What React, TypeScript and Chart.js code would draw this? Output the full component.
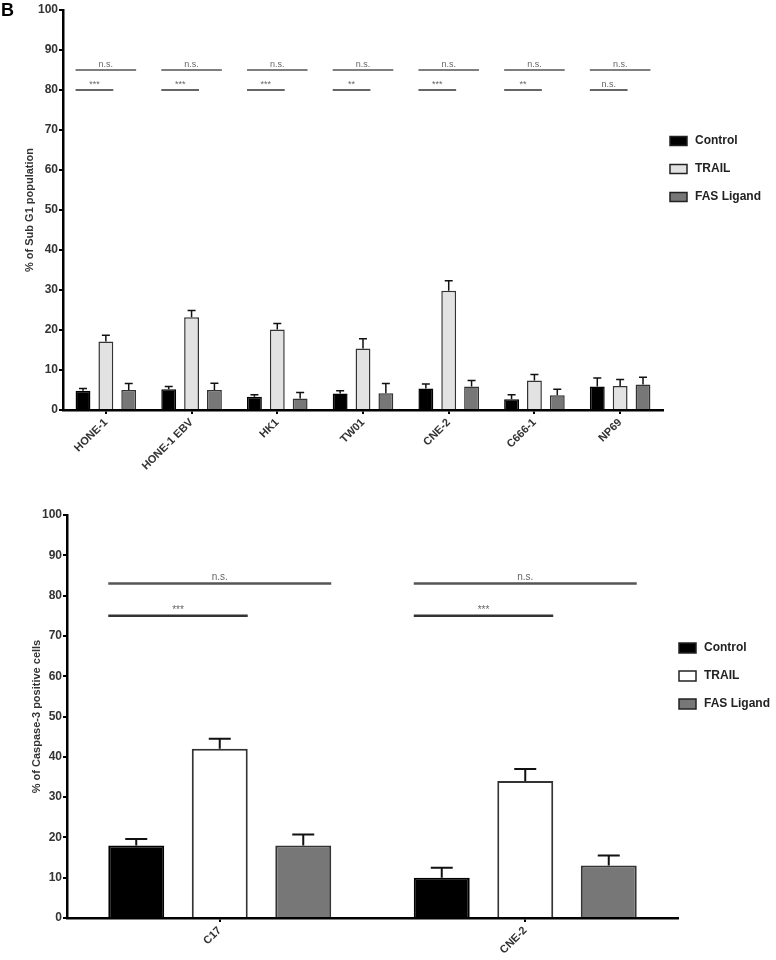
import React, { useEffect, useRef } from 'react';
import { Chart, registerables } from 'chart.js';

Chart.register(...registerables);

const FONT = 'Arial, "Liberation Sans", Helvetica, sans-serif';

// ---------- Top panel data ----------
const topCategories = ['HONE-1', 'HONE-1 EBV', 'HK1', 'TW01', 'CNE-2', 'C666-1', 'NP69'];
const topControl = [4.8, 5.2, 3.3, 4.1, 5.4, 2.7, 5.9];
const topControlSem = [0.6, 0.7, 0.5, 0.7, 1.1, 1.1, 2.1];
const topTrail = [17.1, 23.2, 20.1, 15.4, 29.8, 7.4, 6.0];
const topTrailSem = [1.6, 1.7, 1.5, 2.4, 2.5, 1.5, 1.6];
const topFas = [5.0, 5.0, 2.9, 4.2, 5.9, 3.7, 6.4];
const topFasSem = [1.6, 1.7, 1.5, 2.4, 1.5, 1.5, 1.8];
const topNsLevel = 85;
const topLowLevel = 80;
const topNsLabels = ['n.s.', 'n.s.', 'n.s.', 'n.s.', 'n.s.', 'n.s.', 'n.s.'];
const topLowLabels = ['***', '***', '***', '**', '***', '**', 'n.s.'];

// ---------- Bottom panel data ----------
const botCategories = ['C17', 'CNE-2'];
const botControl = [18, 10];
const botControlSem = [1.6, 2.5];
const botTrail = [42, 34];
const botTrailSem = [2.5, 3.0];
const botFas = [18, 13];
const botFasSem = [2.7, 2.5];
const botNsLevel = 83;
const botLowLevel = 75;
const botNsLabels = ['n.s.', 'n.s.'];
const botLowLabels = ['***', '***'];

const yTicks = [0, 10, 20, 30, 40, 50, 60, 70, 80, 90, 100];
const seriesNames = ['Control', 'TRAIL', 'FAS Ligand'];

type PanelCfg = {
  categories: string[];
  values: number[][];
  sems: number[][];
  colors: string[];
  yTitle: string;
  nsLevel: number;
  lowLevel: number;
  nsLabels: string[];
  lowLabels: string[];
  height: number;
  padTop: number;
  padRight: number;
  yWidth: number;
  xHeight: number;
  titlePad: number;
  catPct: number;
  barPct: number;
  cap: number;
  errWidth: number;
  barBorder: number;
  sigWidth: number;
  sigFont: number;
  legendX: number;
  legendRows: number[];
  legendBoxH: number;
  panelLetter?: string;
};

function buildChart(canvas: HTMLCanvasElement, p: PanelCfg) {
  const extras = {
    id: 'extras',
    afterDatasetsDraw(chart: any) {
      const ctx = chart.ctx as CanvasRenderingContext2D;
      const y = chart.scales.y;
      // error bars (upper only)
      p.sems.forEach((semArr, i) => {
        const meta = chart.getDatasetMeta(i);
        meta.data.forEach((el: any, j: number) => {
          const v = p.values[i][j];
          const top = y.getPixelForValue(v + semArr[j]);
          ctx.save();
          ctx.strokeStyle = '#111';
          ctx.lineWidth = p.errWidth;
          ctx.beginPath();
          ctx.moveTo(el.x, el.y);
          ctx.lineTo(el.x, top);
          ctx.moveTo(el.x - p.cap / 2, top);
          ctx.lineTo(el.x + p.cap / 2, top);
          ctx.stroke();
          ctx.restore();
        });
      });
      // significance lines
      const m0 = chart.getDatasetMeta(0);
      const m1 = chart.getDatasetMeta(1);
      const m2 = chart.getDatasetMeta(2);
      const drawSig = (x0: number, x1: number, level: number, label: string, color: string) => {
        const yy = y.getPixelForValue(level);
        ctx.save();
        ctx.strokeStyle = color;
        ctx.lineWidth = p.sigWidth;
        ctx.beginPath();
        ctx.moveTo(x0, yy);
        ctx.lineTo(x1, yy);
        ctx.stroke();
        ctx.fillStyle = '#666';
        ctx.font = `${p.sigFont}px ${FONT}`;
        ctx.textAlign = 'center';
        ctx.textBaseline = 'bottom';
        ctx.fillText(label, (x0 + x1) / 2, yy - 1);
        ctx.restore();
      };
      p.categories.forEach((_, j) => {
        const a: any = m0.data[j];
        const b: any = m1.data[j];
        const c: any = m2.data[j];
        const left = a.x - a.width / 2;
        drawSig(left, c.x + c.width / 2, p.nsLevel, p.nsLabels[j], '#555');
        drawSig(left, b.x + b.width / 2, p.lowLevel, p.lowLabels[j], '#333');
      });
      // legend
      seriesNames.forEach((name, i) => {
        const cy = p.legendRows[i];
        ctx.save();
        ctx.fillStyle = p.colors[i];
        ctx.strokeStyle = '#222';
        ctx.lineWidth = 1.5;
        ctx.fillRect(p.legendX, cy - p.legendBoxH / 2, 17, p.legendBoxH);
        ctx.strokeRect(p.legendX, cy - p.legendBoxH / 2, 17, p.legendBoxH);
        ctx.fillStyle = '#222';
        ctx.font = `bold 12px ${FONT}`;
        ctx.textAlign = 'left';
        ctx.textBaseline = 'middle';
        ctx.fillText(name, p.legendX + 25, cy);
        ctx.restore();
      });
      if (p.panelLetter) {
        ctx.save();
        ctx.fillStyle = '#000';
        ctx.font = `bold 18px ${FONT}`;
        ctx.textAlign = 'left';
        ctx.textBaseline = 'top';
        ctx.fillText(p.panelLetter, 1, 2);
        ctx.restore();
      }
    },
  };

  return new Chart(canvas, {
    type: 'bar',
    data: {
      labels: p.categories,
      datasets: seriesNames.map((name, i) => ({
        label: name,
        data: p.values[i],
        backgroundColor: p.colors[i],
        borderColor: i === 0 ? '#000' : '#333',
        borderWidth: p.barBorder,
        categoryPercentage: p.catPct,
        barPercentage: p.barPct,
      })),
    },
    options: {
      responsive: false,
      animation: false,
      layout: { padding: { top: p.padTop, right: p.padRight, left: 0, bottom: 0 } },
      plugins: {
        legend: { display: false },
        tooltip: { enabled: false },
      },
      scales: {
        x: {
          grid: { display: true, drawOnChartArea: false, offset: false, drawTicks: true, tickLength: 4, color: '#000', lineWidth: 2 },
          border: { display: true, color: '#000', width: 2.5 },
          ticks: {
            maxRotation: 45,
            minRotation: 45,
            padding: 2,
            color: '#333',
            font: { family: FONT, size: 11, weight: 'bold' },
          },
          afterFit: (s: any) => { s.height = p.xHeight; },
        },
        y: {
          min: 0,
          max: 100,
          afterBuildTicks: (s: any) => { s.ticks = yTicks.map((v) => ({ value: v })); },
          grid: { display: true, drawOnChartArea: false, drawTicks: true, tickLength: 4, color: '#000', lineWidth: 2 },
          border: { display: true, color: '#000', width: 2.5 },
          ticks: {
            padding: 1,
            color: '#333',
            font: { family: FONT, size: 12, weight: 'bold' },
          },
          title: {
            display: true,
            text: p.yTitle,
            color: '#333',
            font: { family: FONT, size: 11, weight: 'bold' },
            padding: { top: p.titlePad, bottom: 0 },
          },
          afterFit: (s: any) => { s.width = p.yWidth; },
        },
      },
    } as any,
    plugins: [extras],
  });
}

const topPanel: PanelCfg = {
  categories: topCategories,
  values: [topControl, topTrail, topFas],
  sems: [topControlSem, topTrailSem, topFasSem],
  colors: ['#000000', '#e2e2e2', '#777777'],
  yTitle: '% of Sub G1 population',
  nsLevel: topNsLevel,
  lowLevel: topLowLevel,
  nsLabels: topNsLabels,
  lowLabels: topLowLabels,
  height: 490,
  padTop: 10,
  padRight: 113,
  yWidth: 63,
  xHeight: 80,
  titlePad: 23,
  catPct: 0.8,
  barPct: 0.65,
  cap: 8,
  errWidth: 1.5,
  barBorder: 1.5,
  sigWidth: 1.5,
  sigFont: 9,
  legendX: 670,
  legendRows: [141, 169, 197],
  legendBoxH: 9,
  panelLetter: 'B',
};

const botPanel: PanelCfg = {
  categories: botCategories,
  values: [botControl, botTrail, botFas],
  sems: [botControlSem, botTrailSem, botFasSem],
  colors: ['#000000', '#ffffff', '#777777'],
  yTitle: '% of Caspase-3 positive cells',
  nsLevel: botNsLevel,
  lowLevel: botLowLevel,
  nsLabels: botNsLabels,
  lowLabels: botLowLabels,
  height: 470,
  padTop: 25,
  padRight: 98,
  yWidth: 67,
  xHeight: 42,
  titlePad: 30,
  catPct: 0.82,
  barPct: 0.67,
  cap: 22,
  errWidth: 2,
  barBorder: 2,
  sigWidth: 2.5,
  sigFont: 10,
  legendX: 679,
  legendRows: [158, 186, 214],
  legendBoxH: 10,
};

function Panel({ cfg }: { cfg: PanelCfg }) {
  const ref = useRef<HTMLCanvasElement | null>(null);
  useEffect(() => {
    if (!ref.current) return;
    const chart = buildChart(ref.current, cfg);
    return () => chart.destroy();
  }, [cfg]);
  return (
    <canvas
      ref={ref}
      width={776}
      height={cfg.height}
      style={{ display: 'block', width: 776, height: cfg.height }}
    />
  );
}

export default function App() {
  return (
    <div style={{ position: 'absolute', left: 0, top: 0, width: 776, height: 960, background: '#fff' }}>
      <Panel cfg={topPanel} />
      <Panel cfg={botPanel} />
    </div>
  );
}
